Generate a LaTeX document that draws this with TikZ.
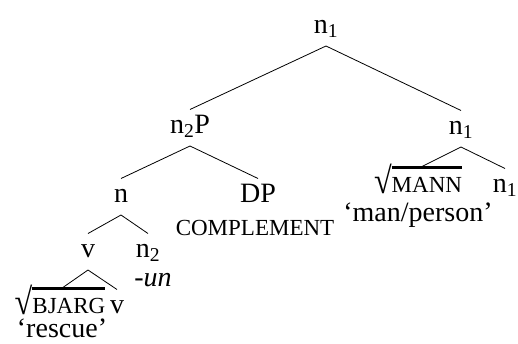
\documentclass[tikz,border=0pt]{standalone}
\usepackage{fontspec}
\setmainfont{Liberation Serif}
\usetikzlibrary{positioning}
\newcommand{\smc}[1]{{\fontsize{23}{26}\selectfont #1}}
\newcommand{\rt}[1]{\raisebox{-1pt}[\height][0pt]{\scalebox{1.15}[1.33]{\textsurd}}%
  \setbox0=\hbox{\smc{#1}}\rlap{\rule[23pt]{\wd0}{2.8pt}}\box0}

\begin{document}
\begin{tikzpicture}[
  x=1pt, y=-1pt,
  font=\fontsize{28}{32}\selectfont,
  lab/.style={anchor=base, inner sep=0pt},
  gl/.style={anchor=base, inner sep=0pt},
  br/.style={line width=0.8pt},
]
\useasboundingbox (0,0) rectangle (518,343);

% ---- category labels --------------------------------------------
\node[lab] (top)  at (326,33)  {n\textsubscript{1}};
\node[lab] (np)   at (190,133) {n\textsubscript{2}P};
\node[lab] (nr)   at (461,134) {n\textsubscript{1}};
\node[lab] (n)    at (121,202) {n};
\node[lab] (dp)   at (258,202) {DP};
\node[lab] (mann) at (418,192) {\rt{MANN}};
\node[lab] (none) at (505,192) {n\textsubscript{1}};
\node[lab] (v)    at (88,257)  {v};
\node[lab] (ntwo) at (148,257) {n\textsubscript{2}};
\node[lab] (bj)   at (60,313)  {\rt{BJARG}};
\node[lab] (vx)   at (117,313) {v};

% ---- glosses and exponents --------------------------------------
\node[gl] (comp)   at (255,235) {\smc{COMPLEMENT}};
\node[gl] (un)     at (153,286) {-\textit{un}};
\node[gl] (rescue) at (62,337)  {`rescue'};
\node[gl] (man)    at (418,221) {`man/person'};

% ---- branches ---------------------------------------------------
\foreach \p/\c in {top/np, top/nr, np/n, np/dp, nr/mann, nr/none,
                   n/v, n/ntwo, v/bj, v/vx}
  \draw[br] ([yshift=-13pt]\p.base) -- ([yshift=23.5pt]\c.base);

\end{tikzpicture}
\end{document}
